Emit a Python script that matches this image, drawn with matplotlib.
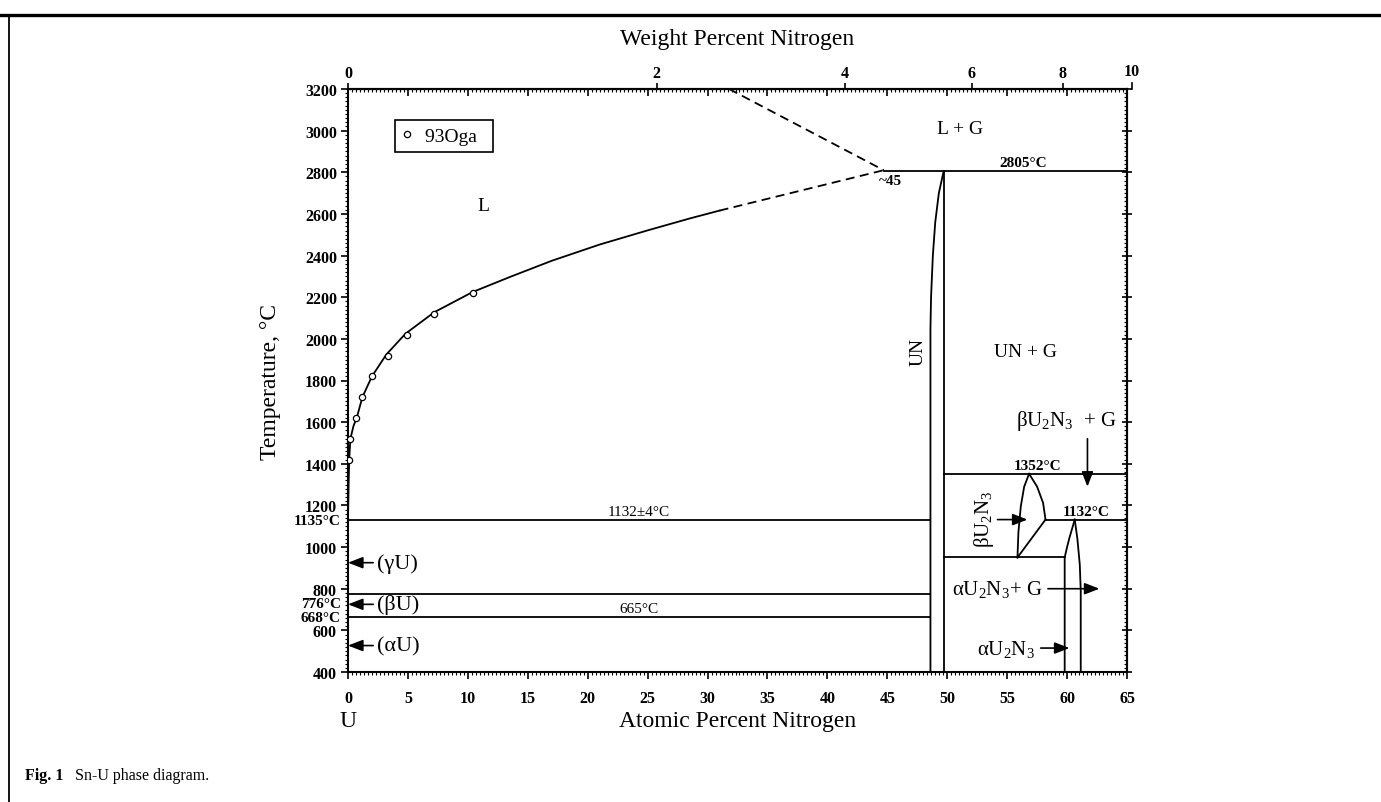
import numpy as np
import matplotlib
matplotlib.use('Agg')
import matplotlib.pyplot as plt
from matplotlib.ticker import MultipleLocator, NullFormatter
from matplotlib.lines import Line2D

plt.rcParams['font.family'] = ['Liberation Serif', 'DejaVu Serif']
plt.rcParams['mathtext.fontset'] = 'custom'
plt.rcParams['mathtext.rm'] = 'Liberation Serif'
plt.rcParams['mathtext.it'] = 'Liberation Serif:italic'
plt.rcParams['mathtext.bf'] = 'Liberation Serif:bold'
plt.rcParams['mathtext.default'] = 'regular'

# ---------------- data ----------------
# 93Oga liquidus measurements (at.% N, deg C)
oga_at = [0.1, 0.15, 0.7, 1.2, 2.0, 3.3, 4.9, 7.2, 10.4]
oga_T = [1420, 1520, 1620, 1720, 1820, 1920, 2020, 2120, 2220]

# liquidus (solid part)
liq_at = [0, 0.05, 0.1, 0.2, 0.45, 0.75, 1.2, 2.0, 3.2, 4.8, 7.2, 10.4, 13.5, 17.0, 21.0, 25.0, 28.5, 31.0]
liq_T = [1135, 1300, 1420, 1520, 1580, 1625, 1720, 1820, 1925, 2025, 2128, 2225, 2297, 2375, 2453, 2521, 2578, 2616]
# dashed liquidus extension and L+G boundary
liq_dash_at = [31.0, 44.7]
liq_dash_T = [2616, 2810]
lg_dash_at = [31.8, 44.7]
lg_dash_T = [3200, 2810]

# UN phase boundaries
un_left_at = [49.7, 49.3, 49.0, 48.8, 48.65, 48.6, 48.6]
un_left_T = [2805, 2700, 2560, 2400, 2200, 2050, 400]
un_right_at = [49.75, 49.75]
un_right_T = [2805, 400]

# beta U2N3 region
bu_left_at = [56.83, 56.42, 56.14, 55.94, 55.86]
bu_left_T = [1352, 1290, 1196, 1072, 950]
bu_right_at = [56.83, 57.5, 58.0, 58.2]
bu_right_T = [1352, 1290, 1212, 1132]
bu_low_at = [58.2, 55.86]
bu_low_T = [1132, 950]

# alpha U2N3 region
au_left_at = [59.8, 59.8, 60.0, 60.2, 60.64]
au_left_T = [400, 950, 1000, 1045, 1132]
au_right_at = [60.64, 60.86, 61.06, 61.14, 61.14]
au_right_T = [1132, 1040, 916, 791, 400]

# isotherms: (x start, x end, T)
iso_x0 = [44.7, 0, 0, 0, 49.75, 58.2, 49.75]
iso_x1 = [65, 48.6, 48.6, 48.6, 65, 65, 59.8]
iso_T = [2805, 1132, 776, 665, 1352, 1132, 950]

# axes ticks
at_ticks = list(range(0, 66, 5))
T_ticks = list(range(400, 3201, 200))
wt_ticks = [0, 2, 4, 6, 8]
wt_last = 10

M_N, M_U = 14.007, 238.03


def at2wt(x):
    x = np.asarray(x, dtype=float)
    with np.errstate(divide='ignore', invalid='ignore'):
        return 100 * M_N * x / (M_N * x + M_U * (100 - x))


def wt2at(w):
    w = np.asarray(w, dtype=float)
    with np.errstate(divide='ignore', invalid='ignore'):
        return 100 * (w / M_N) / (w / M_N + (100 - w) / M_U)


# ---------------- figure ----------------
W, H = 1381, 803
fig = plt.figure(figsize=(W / 100, H / 100), dpi=100)
L, R, T, B = 348, 1127, 90, 673
ax = fig.add_axes([L / W, 1 - B / H, (R - L) / W, (B - T) / H])
ax.set_xlim(0, 65)
ax.set_ylim(400, 3200)

lw = 1.3
k = 'black'
ax.plot(liq_at, liq_T, color=k, lw=lw)
ax.plot(liq_dash_at, liq_dash_T, color=k, lw=lw, ls=(0, (5, 3)))
ax.plot(lg_dash_at, lg_dash_T, color=k, lw=lw, ls=(0, (5, 3)))
ax.plot(un_left_at, un_left_T, color=k, lw=lw)
ax.plot(un_right_at, un_right_T, color=k, lw=lw)
ax.plot(bu_left_at, bu_left_T, color=k, lw=lw)
ax.plot(bu_right_at, bu_right_T, color=k, lw=lw)
ax.plot(bu_low_at, bu_low_T, color=k, lw=lw)
ax.plot(au_left_at, au_left_T, color=k, lw=lw)
ax.plot(au_right_at, au_right_T, color=k, lw=lw)
for x0, x1, t in zip(iso_x0, iso_x1, iso_T):
    ax.plot([x0, x1], [t, t], color=k, lw=lw)

pts, = ax.plot(oga_at, oga_T, ls='none', marker='o', ms=4.5, mfc='white', mec=k, mew=0.9,
               label='93Oga', zorder=5)

leg = ax.legend([pts], ['93Oga  '], loc='upper left', bbox_to_anchor=(0.06, 0.946),
                frameon=True, fancybox=False, edgecolor='black', framealpha=1,
                prop={'family': 'Liberation Serif', 'size': 14},
                handlelength=0.6, handletextpad=0.6, borderpad=0.35, borderaxespad=0)
leg.get_frame().set_linewidth(1.2)

# ---------- ticks ----------
for s in ax.spines.values():
    s.set_linewidth(1.5)
ax.set_xticks(at_ticks, [str(v) for v in at_ticks], fontweight='bold')
ax.set_yticks(T_ticks, [str(v) for v in T_ticks], fontweight='bold')
ax.xaxis.set_minor_locator(MultipleLocator(5 / 15))
ax.yaxis.set_minor_locator(MultipleLocator(20))
ax.tick_params(axis='both', which='major', direction='out', length=5, width=1.2,
               labelsize=11.5, pad=3)
ax.tick_params(axis='both', which='minor', direction='out', length=2.5, width=0.8)
ax.tick_params(axis='x', which='major', pad=8)

# mirror at.% ticks at top (inward)
topat = ax.secondary_xaxis('top', functions=(lambda x: x, lambda x: x))
topat.set_xticks(at_ticks)
topat.xaxis.set_major_formatter(NullFormatter())
topat.xaxis.set_minor_locator(MultipleLocator(5 / 15))
topat.tick_params(which='major', direction='in', length=5, width=1.2)
topat.tick_params(which='minor', direction='in', length=2.5, width=0.8)
topat.spines['top'].set_linewidth(1.5)

# weight percent axis at top
topwt = ax.secondary_xaxis('top', functions=(at2wt, wt2at))
topwt.set_xticks(wt_ticks, [str(v) for v in wt_ticks], fontweight='bold')
topwt.tick_params(which='major', direction='out', length=4, width=1.2, labelsize=11.5, pad=2)
topwt.xaxis.set_minor_locator(matplotlib.ticker.NullLocator())
x10 = float(wt2at(wt_last))
ax.plot([x10, x10], [1.0, 1.0 + 4 * 1.389 / (B - T)], transform=ax.get_xaxis_transform(),
        color=k, lw=1.2, clip_on=False)
ax.annotate(str(wt_last), xy=(x10, 1.0), xycoords=ax.get_xaxis_transform(),
            xytext=(0, 7.5), textcoords='offset points', ha='center', va='bottom',
            fontsize=11.5, fontweight='bold', annotation_clip=False)

# right axis ticks
rgt = ax.secondary_yaxis('right', functions=(lambda x: x, lambda x: x))
rgt.set_yticks(T_ticks)
rgt.yaxis.set_major_formatter(NullFormatter())
rgt.yaxis.set_minor_locator(MultipleLocator(20))
rgt.tick_params(which='major', direction='inout', length=7, width=1.2)
rgt.tick_params(which='minor', direction='in', length=2.5, width=0.8)
rgt.spines['right'].set_linewidth(1.5)

# special left labels
yt = ax.get_yaxis_transform()
for lab, t in [('1135°C', 1130), ('776°C', 728), ('668°C', 660)]:
    ax.text(-0.009, t, lab, transform=yt, ha='right', va='center', fontsize=11,
            fontweight='bold')

# axis labels
ax.text(0.5, -0.083, 'Atomic Percent Nitrogen', transform=ax.transAxes, ha='center',
        va='center', fontsize=17)
ax.text(0, -0.083, 'U', transform=ax.get_xaxis_transform(), ha='center', va='center',
        fontsize=17)
ax.text(-0.10, 0.5, 'Temperature, °C', transform=ax.transAxes, ha='center', va='center',
        rotation=90, fontsize=17)
fig.text((L + R) / 2 / W, 1 - 40 / H, 'Weight Percent Nitrogen', ha='center', va='center',
         fontsize=17)

# phase labels
def T_(s, x, y, **kw):
    ax.text(x, y, s, ha=kw.pop('ha', 'center'), va=kw.pop('va', 'center'), **kw)

T_('L', 11.3, 2640, fontsize=14)
T_('L + G', 51.1, 3010, fontsize=14)
T_('UN + G', 56.5, 1940, fontsize=14)
T_('UN', 47.6, 1944, fontsize=14, rotation=90)
T_('2805°C', 56.3, 2815, fontsize=11, fontweight='bold', va='bottom')
T_('~45', 45.3, 2762, fontsize=11, fontweight='bold')
T_('1132±4°C', 24.3, 1142, fontsize=11, va='bottom')
T_('665°C', 24.3, 675, fontsize=11, va='bottom')
T_('1352°C', 57.5, 1362, fontsize=11, fontweight='bold', va='bottom')
T_('1132°C', 61.6, 1142, fontsize=11, fontweight='bold', va='bottom')
T_('βU$_2$N$_3$  + G', 59.9, 1610, fontsize=15)
T_('βU$_2$N$_3$', 53.1, 1141, fontsize=15, rotation=90)
T_('αU$_2$N$_3$+ G', 54.2, 800, fontsize=15)
T_('αU$_2$N$_3$', 54.9, 515, fontsize=15)
T_('(γU)', 2.4, 925, fontsize=16, ha='left')
T_('(βU)', 2.4, 725, fontsize=16, ha='left')
T_('(αU)', 2.4, 527, fontsize=16, ha='left')

arrow_tail = [(2.1, 925), (2.1, 725), (2.1, 527), (61.7, 1520), (54.2, 1132), (58.4, 800), (57.8, 515)]
arrow_head = [(0.0, 925), (0.0, 725), (0.0, 527), (61.7, 1290), (56.7, 1132), (62.7, 800), (60.2, 515)]
for tail, head in zip(arrow_tail, arrow_head):
    ax.annotate('', xy=head, xytext=tail,
                arrowprops=dict(arrowstyle='-|>,head_length=0.9,head_width=0.35',
                                color=k, lw=1.2, shrinkA=0, shrinkB=0))

# frame lines of the figure page
fig.add_artist(Line2D([0, 1], [1 - 16 / H, 1 - 16 / H], color=k, lw=2.4,
                      transform=fig.transFigure))
fig.add_artist(Line2D([9 / W, 9 / W], [0, 1 - 16 / H], color=k, lw=1.3,
                      transform=fig.transFigure))

# caption
fig.text(25 / W, 1 - 776 / H, 'Fig. 1', fontsize=11.5, fontweight='bold', va='center')
fig.text(75 / W, 1 - 776 / H, 'Sn-U phase diagram.', fontsize=11.5, va='center')

fig.savefig('out.png', dpi=100)
